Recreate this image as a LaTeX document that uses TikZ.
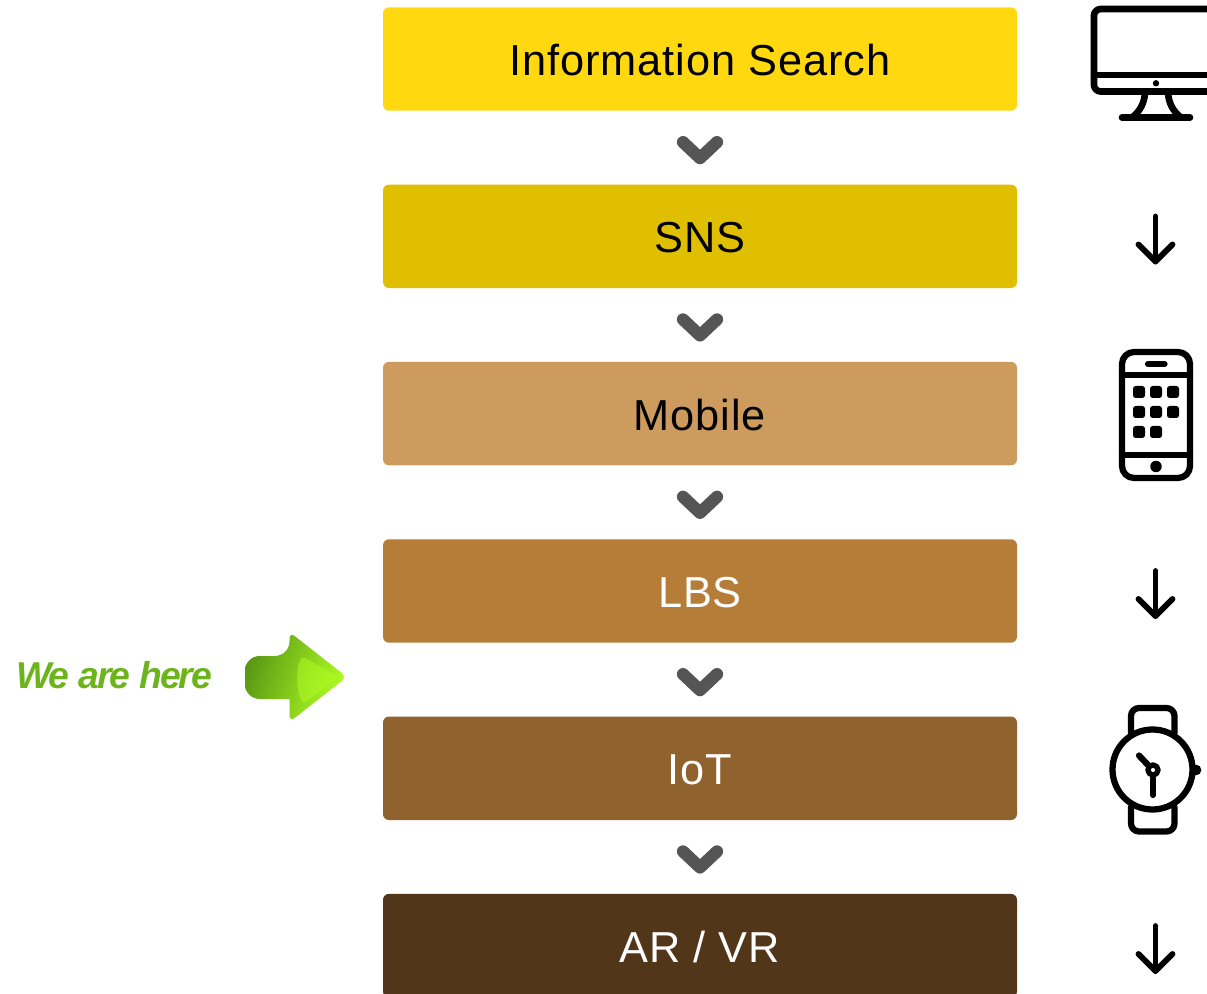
\documentclass[tikz,border=0pt]{standalone}
\usepackage{fontspec}
\setmainfont{Liberation Sans}
\newfontfamily\boxfont[LetterSpace=2.1]{Liberation Sans}
\newfontfamily\herefont[LetterSpace=-5]{Liberation Sans}
\begin{document}
\begin{tikzpicture}[x=0.75pt,y=-0.75pt, line join=round, stepbox/.style={
            rectangle,
            rounded corners=4.5pt,
            minimum width=475.5pt,
            minimum height=77.6pt,
            inner sep=0pt,
            text height=25pt,
            text depth=0pt,
            font=\boxfont\fontsize{32.5}{36}\selectfont
          },
          chevron/.style={draw=chevcolor, line width=9.2pt, line cap=round},
          thinarrow/.style={draw=black, line width=4.4pt, line cap=round},
          icon/.style={draw=black, line width=4.7pt, line cap=round}]
        % Define colors
        \definecolor{infocolor}{RGB}{255, 216, 15}
        \definecolor{snscolor}{RGB}{224, 191, 0}
        \definecolor{mobilecolor}{RGB}{205, 155, 94}
        \definecolor{lbscolor}{RGB}{181, 125, 56}
        \definecolor{iotcolor}{RGB}{143, 98, 46}
        \definecolor{arcolor}{RGB}{82, 54, 25}
        \definecolor{chevcolor}{RGB}{85, 85, 85}
        \definecolor{herecolor}{RGB}{109, 179, 27}
        \definecolor{darkgreen}{RGB}{88, 152, 20}
        \definecolor{midgreen}{RGB}{145, 218, 30}
        \definecolor{limegreen}{RGB}{178, 255, 35}

    \clip (0,0) rectangle (1207,994);

    % boxes
    \foreach \name/\ypos/\boxcolor/\txtcolor/\lab in {
        info/59/infocolor/black/Information Search,
        sns/236.3/snscolor/black/SNS,
        mobile/413.6/mobilecolor/black/Mobile,
        lbs/591/lbscolor/white/LBS,
        iot/768.3/iotcolor/white/IoT,
        arvr/945.6/arcolor/white/{AR / VR}}
        \node[stepbox, fill=\boxcolor, text=\txtcolor] (\name) at (700,\ypos) {\lab};

    % chevrons
    \foreach \upper/\lower in {info/sns, sns/mobile, mobile/lbs, lbs/iot, iot/arvr} {
        \path (\upper.south) -- (\lower.north) coordinate[midway] (chev\lower);
        \draw[chevron] ([shift={(-17,-5.5)}]chev\lower) -- ++(17,16) -- ++(17,-16);
    }

    % thin arrows on the right
    \foreach \name/\ypos in {arrowa/216.5, arrowb/571, arrowc/926} {
        \coordinate (\name) at (1155.5,\ypos);
        \draw[thinarrow] (\name) -- ++(0,45);
        \draw[thinarrow] ([shift={(-17,28)}]\name) -- ++(17,17) -- ++(17,-17);
    }

    % monitor
    \begin{scope}[icon/.append style={line width=5pt}]
        \draw[icon, rounded corners=5pt] (1094,91.5) -- (1094,9) -- (1225,9) -- (1225,91.5) -- cycle;
        \draw[icon] (1094,75) -- (1225,75);
        \fill (1156,83.3) circle (2.4pt);
        \draw[icon] (1145,93) .. controls (1144,104) and (1140,111) .. (1132,117.5);
        \draw[icon] (1168,93) .. controls (1169,104) and (1173,111) .. (1181,117.5);
        \draw[icon] (1122,117.5) -- (1190,117.5);
    \end{scope}

    % phone
    \begin{scope}
        \draw[icon, rounded corners=9pt] (1122,352) rectangle (1190,478);
        \draw[icon] (1122,375) -- (1190,375);
        \draw[icon] (1122,455) -- (1190,455);
        \draw[icon] (1148,364) -- (1164.5,364);
        \fill (1156,466.5) circle (4.3pt);
        \foreach \kx/\ky in {1139/392, 1156/392, 1173/392, 1139/412, 1156/412, 1173/412, 1139/432, 1156/432}
            \fill[rounded corners=2pt] (\kx-6,\ky-6) rectangle (\kx+6,\ky+6);
    \end{scope}

    % watch
    \begin{scope}
        \draw[icon] (1131,733) -- (1131,718) [rounded corners=6pt] -- (1131,708) -- (1174.5,708) -- (1174.5,733);
        \draw[icon] (1131,807) -- (1131,820) [rounded corners=6pt] -- (1131,831.5) -- (1174.5,831.5) -- (1174.5,807);
        \fill[white] (1152.5,769.5) circle (30pt);
        \draw[icon] (1152.5,769.5) circle (30pt);
        \fill (1196,770) circle (4pt);
        \draw[icon, line width=4pt] (1153,770) circle (3.8pt);
        \draw[icon] (1148,765) -- (1139,755.5);
        \draw[icon] (1153,778) -- (1153,795);
    \end{scope}

    % we are here
    \node[text=herecolor, anchor=base west, inner sep=0pt, font=\herefont\itshape\bfseries\fontsize{28}{30}\selectfont] (here) at (16,688) {We are here};
    \shade[left color=darkgreen, middle color=midgreen, right color=limegreen, shading angle=70, rounded corners=11pt]
        (245,677) -- (245,656) -- (289.5,656) [sharp corners] -- (289.5,656) [rounded corners=5pt] -- (289.5,632) -- (347,677) -- (289.5,722) -- (289.5,699) [sharp corners] -- (289.5,699) [rounded corners=11pt] -- (245,699) -- cycle;
    \fill[limegreen, opacity=0.5, rounded corners=3pt] (302,656) .. controls (296,668) and (296,690) .. (303,704) -- (338,677) -- cycle;

\end{tikzpicture}
\end{document}
